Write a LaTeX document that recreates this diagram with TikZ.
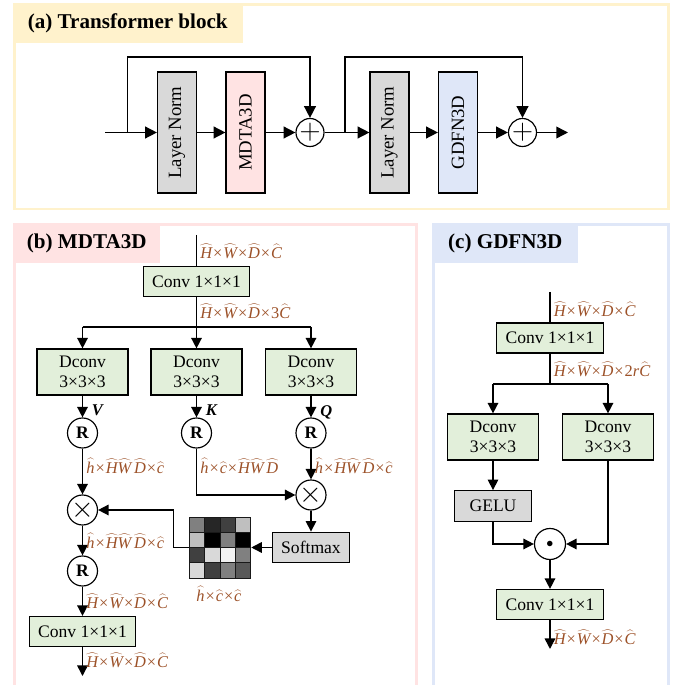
\documentclass[tikz,border=0pt]{standalone}
\usepackage{fontspec}
\setmainfont{Liberation Serif}
\usetikzlibrary{arrows.meta, positioning, calc}
\definecolor{cyellow}{HTML}{FFF2CC}
\definecolor{cpink}{HTML}{FFE3E3}
\definecolor{cblue}{HTML}{DFE7F8}
\definecolor{cgreen}{HTML}{E2EFDA}
\definecolor{cgrey}{HTML}{D9D9D9}
\definecolor{cbrown}{HTML}{9C5128}
\newcommand{\hv}[1]{$\widehat{\textit{#1}}$}
\newcommand{\tms}{\kern0.8pt×\kern0.8pt}
\tikzset{
  every picture/.style={line width=1.3pt},
  panel/.style={draw=#1, line width=2.4pt},
  tag/.style={fill=#1, font=\bfseries\fontsize{18}{20}\selectfont, inner sep=0pt, anchor=north west, minimum height=1.17cm},
  box/.style={draw, fill=#1, line width=1pt, align=center, inner sep=0pt, font=\fontsize{15}{17}\selectfont},
  box/.default=cgreen,
  vbox/.style={box=#1, rotate=90, minimum width=3.63cm, minimum height=1.17cm, font=\fontsize{16}{16}\selectfont},
  conv/.style={box, minimum width=3.2cm, minimum height=0.9cm},
  dconv/.style={box, minimum width=2.73cm, minimum height=1.38cm},
  small/.style={box=cgrey, minimum width=2.3cm, minimum height=0.92cm},
  op/.style={draw, circle, fill=white, line width=1pt, inner sep=0pt, minimum size=#1},
  op/.default=0.9cm,
  arrow/.style={-{Triangle[length=#1, width=#1]}},
  arrow/.default=9pt,
  dim/.style={text=cbrown, font=\fontsize{14}{15}\selectfont, anchor=west, inner sep=1pt},
  qkv/.style={font=\bfseries\itshape\fontsize{14}{14}\selectfont, anchor=west, inner sep=1pt},
}

\begin{document}
\begin{tikzpicture}[x=0.03cm, y=-0.03cm]
  \useasboundingbox (0,0) rectangle (686,685);
  % panels
  \draw[panel=cyellow] (14.5,4.5) rectangle (668.5,209);
  \draw[panel=cpink] (14.5,690) -- (14.5,224.5) -- (416.5,224.5) -- (416.5,690);
  \draw[panel=cblue] (433.5,690) -- (433.5,224.5) -- (668.5,224.5) -- (668.5,690);
  \node[tag=cyellow, minimum width=6.9cm] (ta) at (12,3) {(a) Transformer block};
  \node[tag=cpink, minimum width=4.38cm] (tb) at (13,223) {(b) MDTA3D};
  \node[tag=cblue, minimum width=4.35cm] (tc) at (432,223) {(c) GDFN3D};

  % (a) transformer block
  \node[vbox=cgrey] (ln1) at (177,132.5) {Layer Norm};
  \node[vbox=cpink] (mdta) at (245.5,132.5) {MDTA3D};
  \node[op=0.84cm, font=\fontsize{26}{26}\selectfont] (add1) at (310,132.5) {$+$};
  \node[vbox=cgrey] (ln2) at (389.5,132.5) {Layer Norm};
  \node[vbox=cblue] (gdfn) at (458,132.5) {GDFN3D};
  \node[op=0.84cm, font=\fontsize{26}{26}\selectfont] (add2) at (522.5,132.5) {$+$};
  \coordinate (ain) at (105,132.5);
  \coordinate (s1) at (127.5,132.5);
  \coordinate (s2) at (345,132.5);
  \coordinate (aout) at (568,132.5);
  \draw[arrow=10pt] (ain) -- (ln1);
  \draw[arrow=10pt] (ln1) -- (mdta);
  \draw[arrow=10pt] (mdta) -- (add1);
  \draw[arrow=10pt] (add1) -- (ln2);
  \draw[arrow=10pt] (ln2) -- (gdfn);
  \draw[arrow=10pt] (gdfn) -- (add2);
  \draw[arrow=10pt] (add2) -- (aout);
  \draw[arrow=10pt] (s1) -- ++(0,-75.5) -| (add1);
  \draw[arrow=10pt] (s2) -- ++(0,-75.5) -| (add2);

  % (b) MDTA3D
  \coordinate (bin) at (196.5,235);
  \node[conv] (bconv1) at (196.5,281.5) {Conv 1×1×1};
  \coordinate (bsplit) at (196.5,327);
  \draw (bin) -- (bconv1);
  \draw (bconv1) -- (bsplit);
  \node[dconv] (dv) at (82.5,372) {Dconv\\3×3×3};
  \node[dconv] (dk) at (196.5,372) {Dconv\\3×3×3};
  \node[dconv] (dq) at (311,372) {Dconv\\3×3×3};
  \draw (dv |- bsplit) -- (dq |- bsplit);
  \foreach \d in {dv,dk,dq} \draw[arrow] (\d |- bsplit) -- (\d);
  \node[op, font=\bfseries\fontsize{15}{15}\selectfont] (rv) at (82.5,433) {R};
  \node[op, font=\bfseries\fontsize{15}{15}\selectfont] (rk) at (196.5,433) {R};
  \node[op, font=\bfseries\fontsize{15}{15}\selectfont] (rq) at (311,433) {R};
  \foreach \d/\r in {dv/rv,dk/rk,dq/rq} \draw[arrow] (\d) -- (\r);
  \node[qkv] at (90,410) {V};
  \node[qkv] at (204,410) {K};
  \node[qkv] at (318.5,412) {Q};
  \node[op, font=\fontsize{26}{26}\selectfont] (mulv) at (82.5,510) {$\times$};
  \node[op, font=\fontsize{26}{26}\selectfont] (mulq) at (311,495) {$\times$};
  \node[small] (softmax) at (311,547.5) {Softmax};
  \node[minimum size=1.83cm, inner sep=0pt] (attn) at (220,547.5) {};
  \foreach \g [count=\i from 0] in {50,85,75,25, 25,100,50,100, 75,15,5,50, 15,75,50,65} {
    \pgfmathtruncatemacro{\row}{\i/4}
    \pgfmathtruncatemacro{\col}{mod(\i,4)}
    \filldraw[fill=black!\g, draw=black!90, line width=0.8pt] ({189.5+\col*15.25},{517+\row*15.25}) rectangle ++(15.25,15.25);
  }
  \node[op, font=\bfseries\fontsize{15}{15}\selectfont] (r2) at (82.5,571) {R};
  \node[conv] (bconv2) at (82.5,631.5) {Conv 1×1×1};
  \coordinate (bout) at (82.5,676);
  \draw[arrow] (rv) -- (mulv);
  \draw[arrow] (rk) |- (mulq);
  \draw[arrow] (rq) -- (mulq);
  \draw[arrow] (mulq) -- (softmax);
  \draw[arrow] (softmax) -- (attn);
  \draw[arrow] (attn.west) -- ++(-15,0) |- (mulv);
  \draw[arrow] (mulv) -- (r2);
  \draw[arrow] (r2) -- (bconv2);
  \draw[arrow] (bconv2) -- (bout);
  \node[dim] at (198.5,251) {\hv{H}\tms\hv{W}\tms\hv{D}\tms\hv{C}};
  \node[dim] at (198.5,311) {\hv{H}\tms\hv{W}\tms\hv{D}\tms3\hv{C}};
  \node[dim] at (84.5,466) {\hv{h}\tms\hv{H}\hv{W}\,\hv{D}\tms\hv{c}};
  \node[dim] at (198.5,466) {\hv{h}\tms\hv{c}\tms\hv{H}\hv{W}\,\hv{D}};
  \node[dim] at (313,466) {\hv{h}\tms\hv{H}\hv{W}\,\hv{D}\tms\hv{c}};
  \node[dim] at (84.5,541) {\hv{h}\tms\hv{H}\hv{W}\,\hv{D}\tms\hv{c}};
  \node[dim, anchor=center] at (219,594) {\hv{h}\tms\hv{c}\tms\hv{c}};
  \node[dim] at (84.5,601) {\hv{H}\tms\hv{W}\tms\hv{D}\tms\hv{C}};
  \node[dim] at (84.5,660) {\hv{H}\tms\hv{W}\tms\hv{D}\tms\hv{C}};

  % (c) GDFN3D
  \coordinate (cin) at (550,292);
  \node[conv] (cconv1) at (550,338) {Conv 1×1×1};
  \coordinate (csplit) at (550,384);
  \draw (cin) -- (cconv1);
  \draw (cconv1) -- (csplit);
  \node[dconv] (cdl) at (493,437) {Dconv\\3×3×3};
  \node[dconv] (cdr) at (608,437) {Dconv\\3×3×3};
  \draw (cdl |- csplit) -- (cdr |- csplit);
  \foreach \d in {cdl,cdr} \draw[arrow] (\d |- csplit) -- (\d);
  \node[small] (gelu) at (493,506) {GELU};
  \node[op=0.93cm, font=\fontsize{12}{12}\selectfont] (dot) at (550,544) {$\bullet$};
  \node[conv] (cconv2) at (550,604.5) {Conv 1×1×1};
  \coordinate (cout) at (550,649);
  \draw[arrow] (cdl) -- (gelu);
  \draw[arrow] (gelu) |- (dot);
  \draw[arrow] (cdr) |- (dot);
  \draw[arrow] (dot) -- (cconv2);
  \draw[arrow] (cconv2) -- (cout);
  \node[dim] at (552,309) {\hv{H}\tms\hv{W}\tms\hv{D}\tms\hv{C}};
  \node[dim] at (552,369) {\hv{H}\tms\hv{W}\tms\hv{D}\tms2\textit{r}\hv{C}};
  \node[dim] at (552,637) {\hv{H}\tms\hv{W}\tms\hv{D}\tms\hv{C}};
\end{tikzpicture}
\end{document}
